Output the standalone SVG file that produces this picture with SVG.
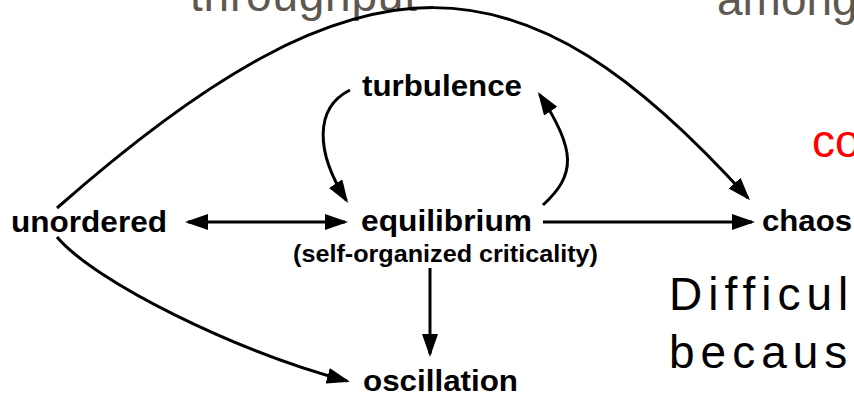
<svg xmlns="http://www.w3.org/2000/svg" width="854" height="396" viewBox="0 0 854 396">
<style>
.n{font-family:"Liberation Sans",Arial,sans-serif;font-weight:bold;font-size:30px;fill:#000}
.s{font-family:"Liberation Sans",Arial,sans-serif;font-weight:bold;font-size:24px;fill:#000}
.bg{font-family:"Liberation Sans",Arial,sans-serif;font-size:46px}
.c{fill:none;stroke:#000;stroke-width:3}
</style>
<defs>
<marker id="ah" markerUnits="userSpaceOnUse" viewBox="0 0 23 16" markerWidth="23" markerHeight="16" refX="20" refY="8" orient="auto-start-reverse">
<path d="M0,0 L23,8 L0,16 z" fill="#000"/>
</marker>
</defs>
<rect width="854" height="396" fill="#fff"/>
<g id="background-text">
<text class="bg" x="190" y="11" fill="#5f5850" textLength="227">throughput</text>
<text class="bg" x="717" y="15" fill="#5f5850">among</text>
<text class="bg" x="812" y="157" fill="#ff0000" font-size="50">co</text>
<text class="bg" x="669" y="310" fill="#000" font-size="49" letter-spacing="6">Difficul</text>
<text class="bg" x="669" y="368" fill="#000" font-size="49" letter-spacing="6">becaus</text>
</g>
<g id="connectors">
<path class="c" d="M57,208 C365,-63 522,-52 748,198" marker-end="url(#ah)"/>
<path class="c" d="M57,237 C95,282 235,351 347,381" marker-end="url(#ah)"/>
<path class="c" d="M188,222 L345,222" marker-start="url(#ah)" marker-end="url(#ah)"/>
<path class="c" d="M543,222 L752,222" marker-end="url(#ah)"/>
<path class="c" d="M430,268 L430,354" marker-end="url(#ah)"/>
<path class="c" d="M350,90 C314,108 315.6,152.6 346.4,200.5" marker-end="url(#ah)"/>
<path class="c" d="M543,205 C576,175 576.5,150 539.6,94.5" marker-end="url(#ah)"/>
</g>
<g id="unordered"><text class="n" x="11" y="232" textLength="156" lengthAdjust="spacingAndGlyphs">unordered</text></g>
<g id="equilibrium">
<text class="n" x="361" y="231" textLength="171" lengthAdjust="spacingAndGlyphs">equilibrium</text>
<text class="s" x="293" y="262" textLength="305" lengthAdjust="spacingAndGlyphs">(self-organized criticality)</text>
</g>
<g id="chaos"><text class="n" x="762" y="231" textLength="90" lengthAdjust="spacingAndGlyphs">chaos</text></g>
<g id="turbulence"><text class="n" x="362" y="96" textLength="160" lengthAdjust="spacingAndGlyphs">turbulence</text></g>
<g id="oscillation"><text class="n" x="363" y="391" textLength="155" lengthAdjust="spacingAndGlyphs">oscillation</text></g>
</svg>
